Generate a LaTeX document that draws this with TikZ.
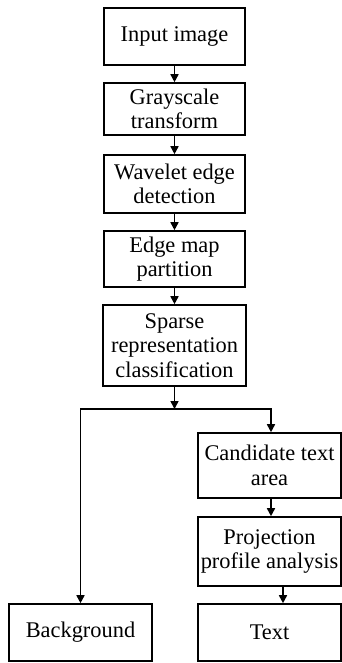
\documentclass[tikz,border=0pt]{standalone}
\usepackage{fontspec}
\setmainfont{Liberation Serif}
\usetikzlibrary{arrows.meta}
\begin{document}
\begin{tikzpicture}[x=1pt,y=-1pt,
  box/.style={draw, line width=1.6pt, rectangle, inner sep=0pt, align=center,
    font=\fontsize{22.4}{24.5}\selectfont},
  arr/.style={line width=1.6pt, -{Triangle[width=8pt,length=8pt]}},
  wire/.style={line width=1.6pt}]
\useasboundingbox (0,0) rectangle (342,663);

% main column
\node[box, minimum width=141pt, minimum height=57pt] (b1) at (174.5,36.5) {Input image};
\node[box, minimum width=141pt, minimum height=52pt] (b2) at (174.5,109) {Grayscale\\transform};
\node[box, minimum width=141pt, minimum height=58pt] (b3) at (174.5,184) {Wavelet edge\\detection};
\node[box, minimum width=141pt, minimum height=56pt] (b4) at (174.5,259) {Edge map\\partition};
\node[box, minimum width=143pt, minimum height=81pt] (b5) at (174.5,345.5) {Sparse\\representation\\classification};

% branches
\node[box, minimum width=143pt, minimum height=65pt] (cand) at (269.5,465.5) {Candidate text\\area};
\node[box, minimum width=143pt, minimum height=69pt] (proj) at (269.5,551.5) {Projection\\profile analysis};
\node[box, minimum width=143pt, minimum height=57pt] (text) at (269.5,632.5) {Text};
\node[box, minimum width=143pt, minimum height=57pt] (bg) at (80.5,632.5) {Background};

\coordinate (split) at (174.5,409);

\draw[arr] (b1) -- (b2);
\draw[arr] (b2) -- (b3);
\draw[arr] (b3) -- (b4);
\draw[arr] (b4) -- (b5);
\draw[arr] (b5) -- (split);
\draw[arr] (split) -| (bg.north);
\draw[arr] (split) -| ([xshift=1.5pt]cand.north);
\draw[arr] ([xshift=1.5pt]cand.south) -- ([xshift=1.5pt]proj.north);
\draw[arr] ([xshift=13.5pt]proj.south) -- ([xshift=13.5pt]text.north);
\end{tikzpicture}
\end{document}
